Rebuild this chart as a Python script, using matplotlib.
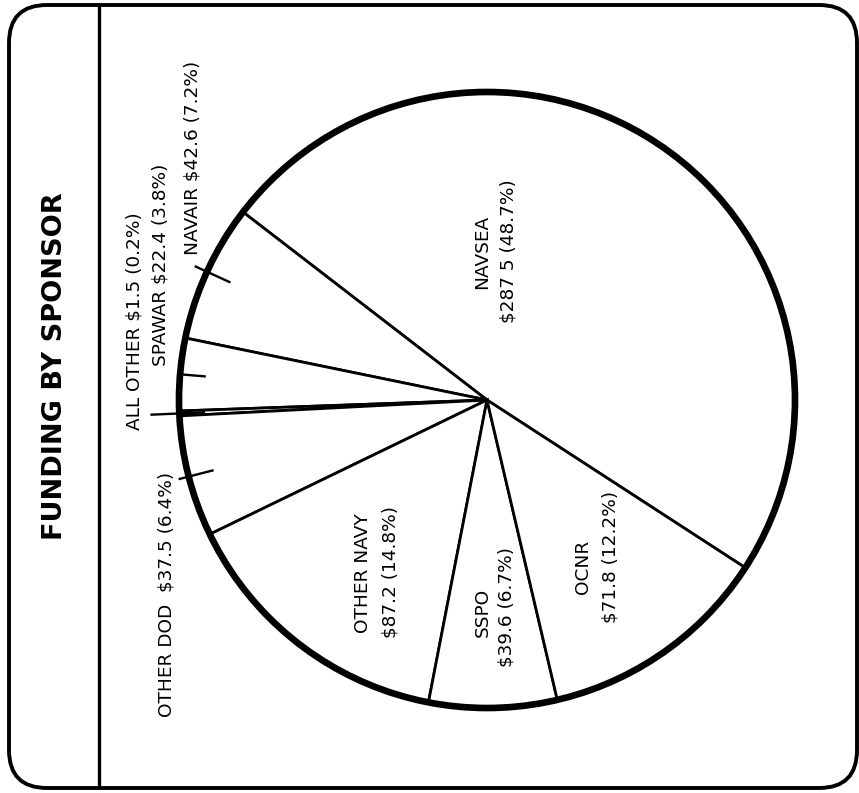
import numpy as np
import matplotlib.pyplot as plt
from matplotlib.patches import FancyBboxPatch, Circle

plt.rcParams['font.family'] = ['DejaVu Sans']

W, H = 859, 793

sponsors = ["NAVSEA", "NAVAIR", "SPAWAR", "ALL OTHER", "OTHER DOD",
            "OTHER NAVY", "SSPO", "OCNR"]
funding = [287.5, 42.6, 22.4, 1.5, 37.5, 87.2, 39.6, 71.8]
percents = [48.7, 7.2, 3.8, 0.2, 6.4, 14.8, 6.7, 12.2]
value_text = ["$287 5", "$42.6", "$22.4", "$1.5", "$37.5", "$87.2", "$39.6", "$71.8"]


def py(y):
    # pixel row (top down) -> data y (bottom up)
    return H - y


fig = plt.figure(figsize=(W / 100, H / 100), dpi=100)
ax = fig.add_axes([0, 0, 1, 1])
ax.set_xlim(0, W)
ax.set_ylim(0, H)
ax.set_aspect('equal')
ax.axis('off')

# frame with rounded corners and the title strip divider
frame = FancyBboxPatch((9 + 38, py(788) + 38), 848 - 76, 783 - 76,
                       boxstyle="round,pad=38", fill=False, lw=2.8, ec='black')
ax.add_patch(frame)
ax.plot([99, 99], [py(6), py(787)], color='black', lw=2.4)

ax.text(55, py(366), "FUNDING BY SPONSOR", rotation=90, ha='center', va='center',
        fontsize=19.5, fontweight='bold')

# pie
cx, cy, R = 487, py(400), 308
start = -33
wedges, _ = ax.pie(funding, startangle=start, counterclock=True, center=(cx, cy),
                   radius=R, colors=['white'] * len(funding),
                   wedgeprops=dict(edgecolor='black', linewidth=2.0))
ax.add_patch(Circle((cx, cy), R, fill=False, ec='black', lw=4.8))
ax.set_xlim(0, W)
ax.set_ylim(0, H)

# leader ticks for the outside labels
tick_outer = {"NAVAIR": 1.04, "SPAWAR": 1.0, "ALL OTHER": 1.09, "OTHER DOD": 1.03}
for w, name in zip(wedges, sponsors):
    if name in tick_outer:
        a = np.deg2rad((w.theta1 + w.theta2) / 2)
        r0, r1 = 0.92 * R, tick_outer[name] * R
        ax.plot([cx + r0 * np.cos(a), cx + r1 * np.cos(a)],
                [cy + r0 * np.sin(a), cy + r1 * np.sin(a)], color='black', lw=1.7)

fs = 13.3
lab = {s: (v, p) for s, v, p in zip(sponsors, value_text, percents)}


def vtext(x, y, s, **kw):
    ax.text(x, py(y), s, rotation=90, ha='center', va='center', fontsize=fs, **kw)


# outside labels
v, p = lab["NAVAIR"]
vtext(192, 158, f"NAVAIR {v} ({p}%)")
v, p = lab["SPAWAR"]
vtext(161, 265, f"SPAWAR {v} ({p}%)")
v, p = lab["ALL OTHER"]
vtext(135, 321, f"ALL OTHER {v} ({p}%)")
v, p = lab["OTHER DOD"]
vtext(167, 594, f"OTHER DOD  {v} ({p}%)")

# inside labels
v, p = lab["NAVSEA"]
vtext(482, 252, "NAVSEA")
vtext(509, 251, f"{v} ({p}%)")
v, p = lab["OTHER NAVY"]
vtext(363, 573, "OTHER NAVY")
vtext(390, 572, f"{v} ({p}%)")
v, p = lab["SSPO"]
vtext(483, 612, "SSPO")
vtext(507, 607, f"{v} ({p}%)")
v, p = lab["OCNR"]
vtext(583, 567, "OCNR")
vtext(611, 557, f"{v} ({p}%)")

fig.savefig("out.png", dpi=100)
